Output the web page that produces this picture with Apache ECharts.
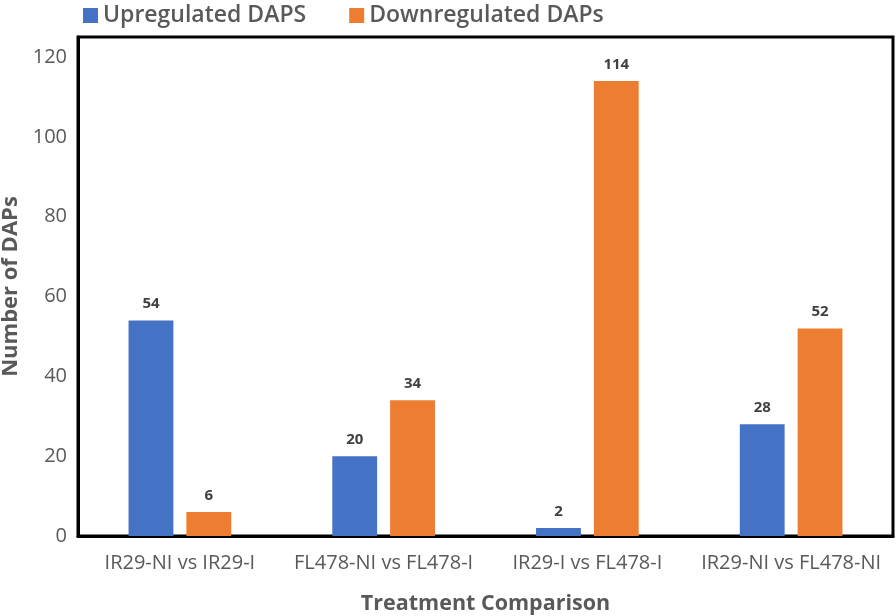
<!DOCTYPE html>
<html>
<head>
<meta charset="utf-8">
<script src="https://cdn.jsdelivr.net/npm/echarts@6/dist/echarts.min.js"></script>
<style>
html,body{margin:0;padding:0;background:#fff;}
#chart{width:896px;height:616px;}
</style>
</head>
<body>
<div id="chart"></div>
<script>
const categories = ["IR29-NI vs IR29-I", "FL478-NI vs FL478-I", "IR29-I vs FL478-I", "IR29-NI vs FL478-NI"];
const upregulated = [54, 20, 2, 28];
const downregulated = [6, 34, 114, 52];
const seriesNames = ["Upregulated DAPS", "Downregulated DAPs"];
const yTicks = [0, 20, 40, 60, 80, 100, 120];

const FONT = '"Open Sans", "Noto Sans", sans-serif';
const chart = echarts.init(document.getElementById('chart'));
const labelStyle = {
  show: true, position: 'top', distance: 9,
  fontFamily: FONT, fontSize: 15, fontWeight: 'bold', color: '#404040'
};
chart.setOption({
  animation: false,
  backgroundColor: '#ffffff',
  legend: {
    left: 78, top: -1, itemWidth: 15, itemHeight: 15, itemGap: 43,
    icon: 'rect',
    textStyle: { fontFamily: FONT, fontSize: 23, color: '#595959', fontWeight: 600 },
    data: seriesNames
  },
  grid: {
    left: 78, right: 3, top: 37, bottom: 80,
    outerBoundsMode: 'none', containLabel: false,
    show: true, borderColor: '#000', borderWidth: 3, backgroundColor: 'transparent'
  },
  xAxis: {
    type: 'category', data: categories,
    axisLine: { lineStyle: { color: '#000', width: 3 } },
    axisTick: { show: false },
    axisLabel: { fontFamily: FONT, fontSize: 20, color: '#595959', margin: 17, interval: 0 },
    name: 'Treatment Comparison', nameLocation: 'middle', nameGap: 57,
    nameTextStyle: { fontFamily: FONT, fontSize: 21.5, fontWeight: 'bold', color: '#595959' }
  },
  yAxis: {
    type: 'value', min: 0, max: 125, interval: 20,
    axisLine: { show: true, lineStyle: { color: '#000', width: 3 } },
    axisTick: { show: false },
    splitLine: { show: false },
    axisLabel: {
      fontFamily: FONT, fontSize: 20, color: '#595959', margin: 11,
      formatter: function (v) { return yTicks.indexOf(v) >= 0 ? String(v) : ''; }
    },
    name: 'Number of DAPs', nameLocation: 'middle', nameGap: 54,
    nameTextStyle: { fontFamily: FONT, fontSize: 22, fontWeight: 'bold', color: '#595959' }
  },
  series: [
    {
      name: seriesNames[0], type: 'bar', data: upregulated,
      barWidth: '22%', barGap: '29%',
      itemStyle: { color: '#4472C4' },
      label: labelStyle
    },
    {
      name: seriesNames[1], type: 'bar', data: downregulated,
      barWidth: '22%', barGap: '29%',
      itemStyle: { color: '#ED7D31' },
      label: labelStyle
    }
  ]
});
</script>
</body>
</html>
